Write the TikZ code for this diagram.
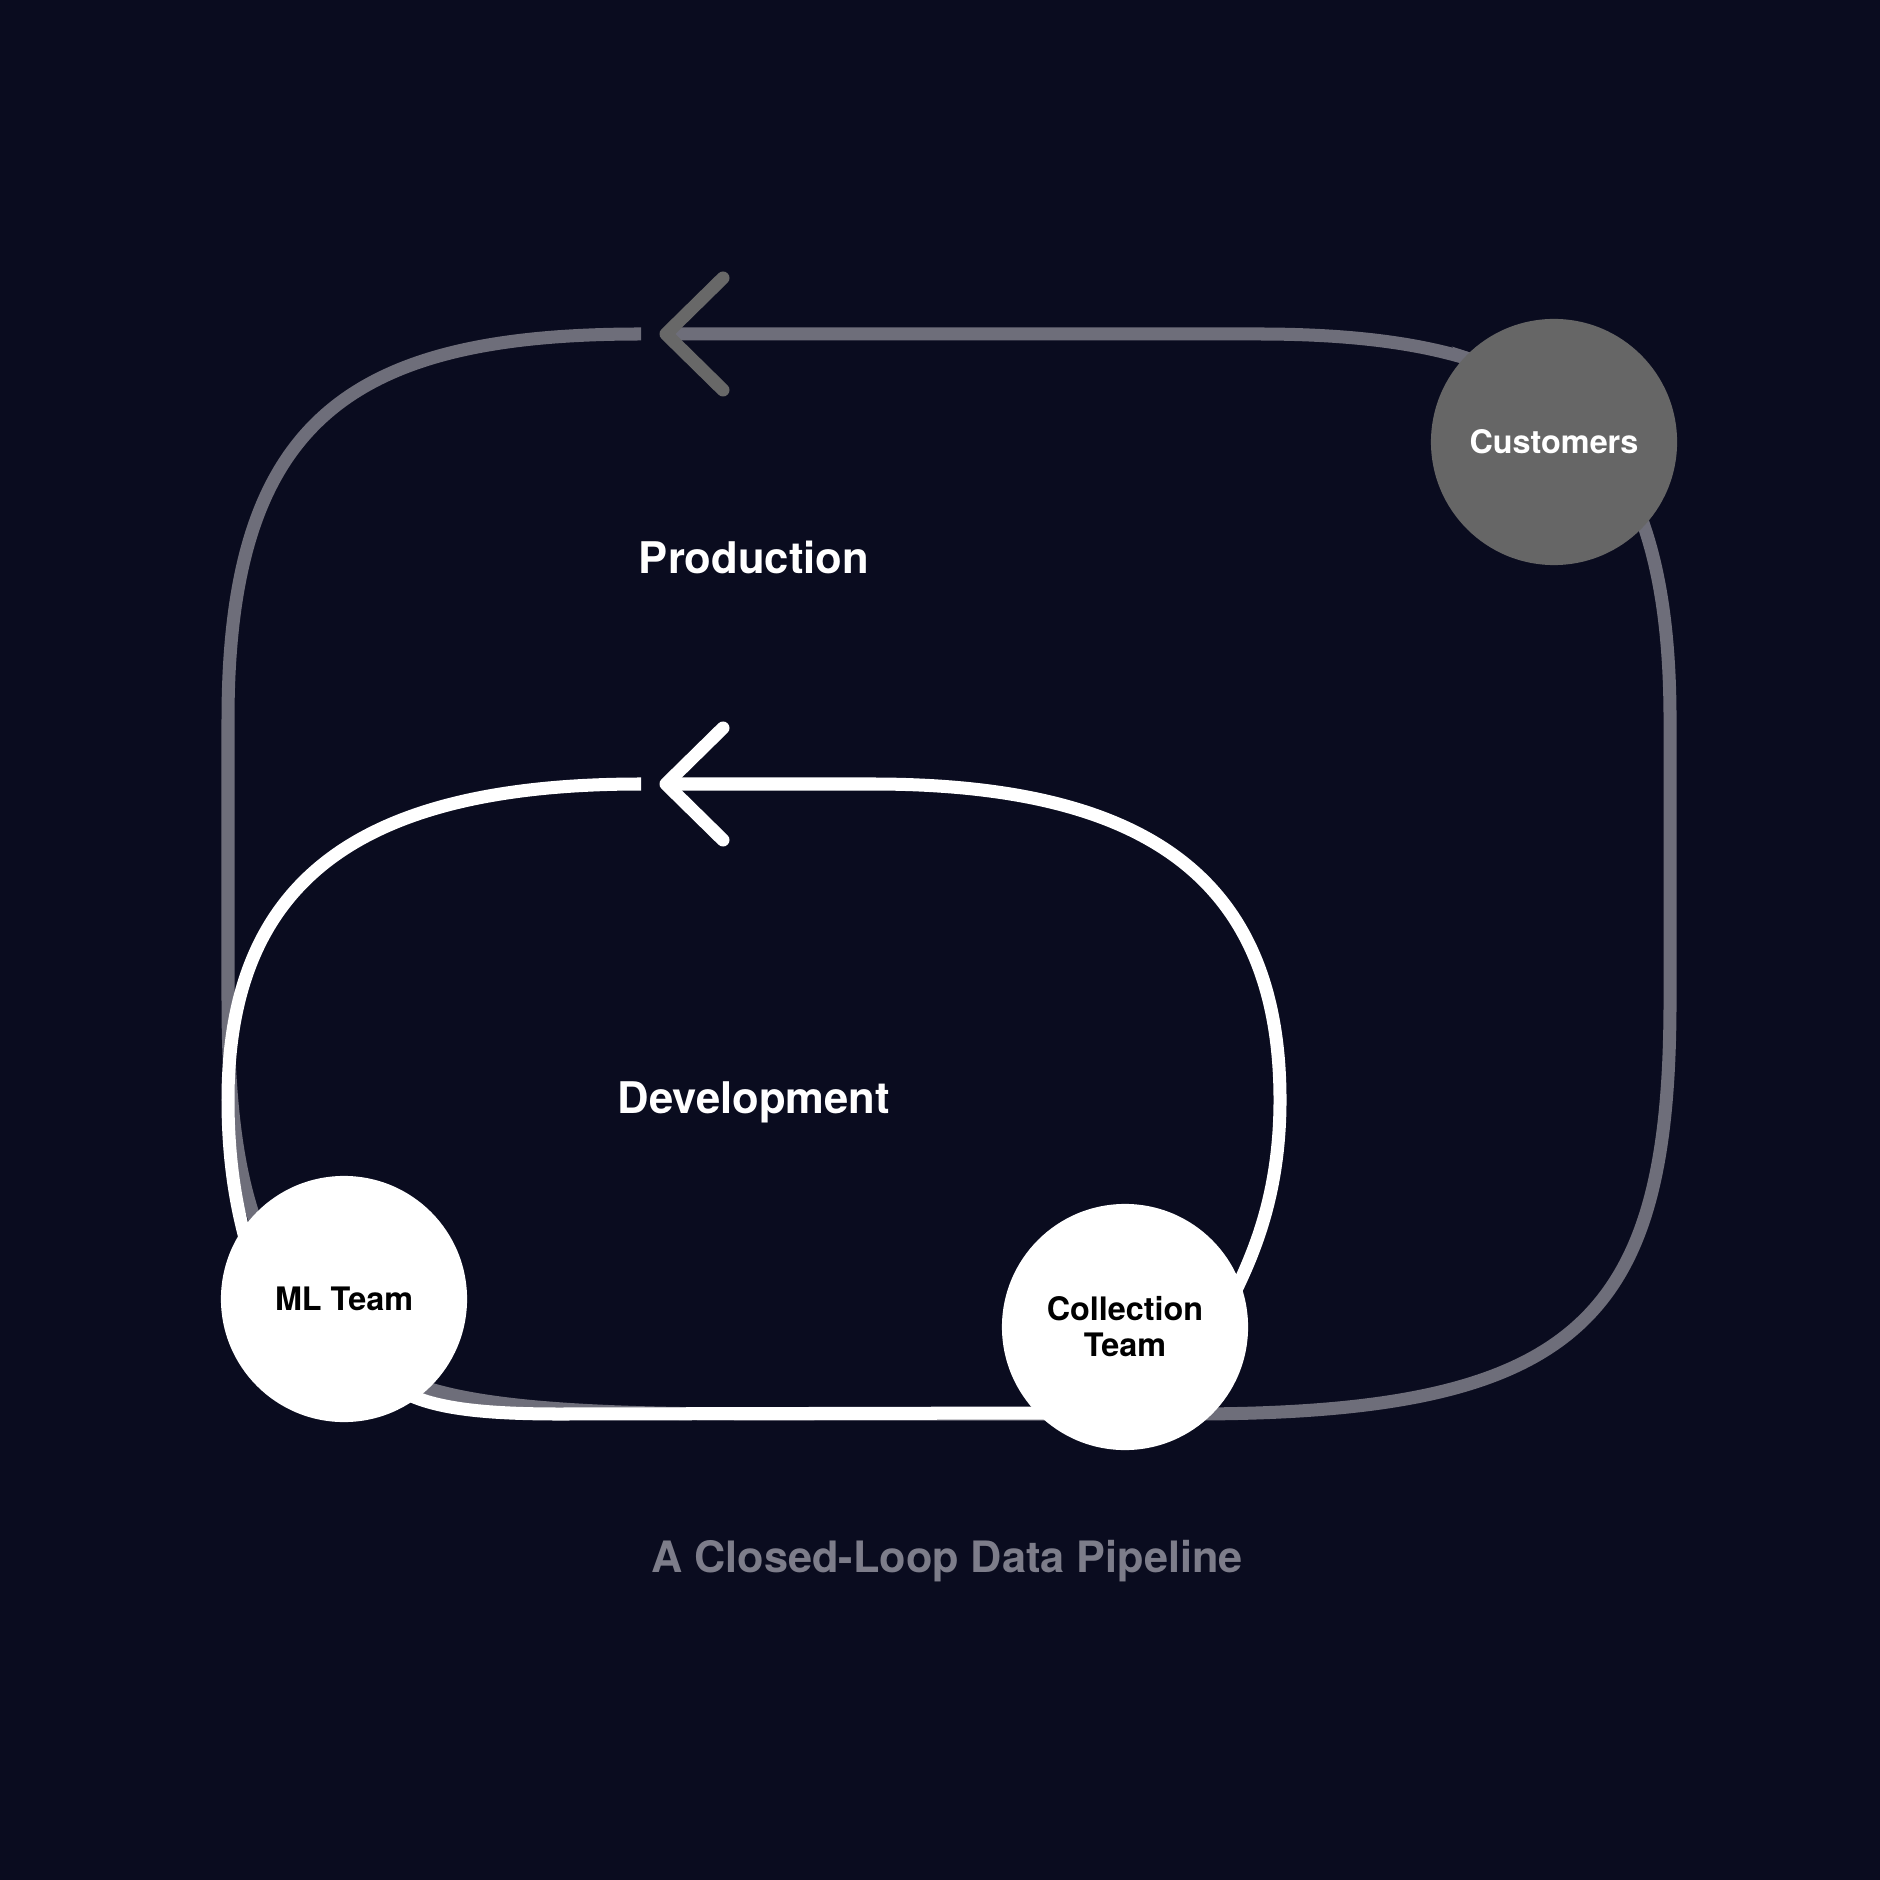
\documentclass[tikz,border=0pt]{standalone}
\usepackage{fontspec}
\setmainfont{TeX Gyre Heros}
\usetikzlibrary{backgrounds}
\definecolor{CLNight}{HTML}{0A0C1F}
\definecolor{CLProd}{HTML}{6E6E7A}
\definecolor{CLArrow}{HTML}{686868}
\definecolor{CLCust}{HTML}{666666}
\definecolor{CLCaption}{HTML}{7D7D8A}
\tikzset{
  stage/.style={circle,minimum size=2.46cm,inner sep=0pt,align=center,font=\bfseries\fontsize{9.2}{10.2}\selectfont},
  team/.style={stage,fill=white,text=black},
  loopname/.style={text=white,font=\bfseries\fontsize{12.4}{14}\selectfont},
  prodline/.style={CLProd,line width=3.7pt},
  devline/.style={white,line width=3.7pt},
  chevron/.style={line width=3.7pt,line cap=round,line join=round}
}

\begin{document}
\begin{tikzpicture}[x=0.01cm,y=-0.01cm]
\path[use as bounding box] (0,0) rectangle (1880,1880);
\node[stage,fill=CLCust,text=white] (cust) at (1554,442) {Customers};
\node[team] (ml) at (344,1299) {ML Team};
\node[team] (coll) at (1125,1327) {Collection\\Team};
\node[loopname] (prod) at (754,557) {Production};
\node[loopname] (dev) at (754,1102) {Development};
\node[text=CLCaption,font=\bfseries\fontsize{12.3}{14}\selectfont] (caption) at (947,1561) {A Closed-Loop Data Pipeline};
\coordinate (prodtip) at (666,334);
\coordinate (prodtail) at (641,334);
\coordinate (devtip) at (666,784);
\coordinate (devtail) at (641,784);
\begin{scope}[on background layer]
\fill[CLNight] (0,0) rectangle (1880,1880);
\draw[prodline] (cust.center) -- (1475,361) .. controls (1417,342) and (1345,334) .. (1258,334) -- (prodtip);
\draw[prodline] (prodtail) .. controls (350,334) and (228,420) .. (228,720) -- (228,1000) .. controls (228,1096) and (236,1172) .. (259,1231) -- (ml.center);
\draw[prodline] (ml.center) -- (405,1380) .. controls (460,1404) and (560,1414) .. (748,1414) -- (1060,1414) -- (coll.center);
\draw[prodline] (coll.center) -- (1190,1414) .. controls (1580,1414) and (1670,1320) .. (1670,1000) -- (1670,720) .. controls (1670,510) and (1610,405) .. (1475,361) -- (cust.center);
\draw[devline] (coll.center) -- (1232,1298) .. controls (1256,1250) and (1280,1190) .. (1280,1100) .. controls (1280,880) and (1148,784) .. (872,784) -- (devtip);
\draw[devline] (devtail) .. controls (360,784) and (228,880) .. (228,1100) .. controls (228,1160) and (236,1210) .. (250,1255) -- (ml.center);
\draw[devline] (ml.center) -- (400,1390) .. controls (430,1408) and (480,1414) .. (560,1414) -- (1050,1413) -- (coll.center);
\draw[chevron,CLArrow] (723,278) -- (prodtip) -- (723,390);
\draw[chevron,white] (723,728) -- (devtip) -- (723,840);
\end{scope}
\end{tikzpicture}
\end{document}
